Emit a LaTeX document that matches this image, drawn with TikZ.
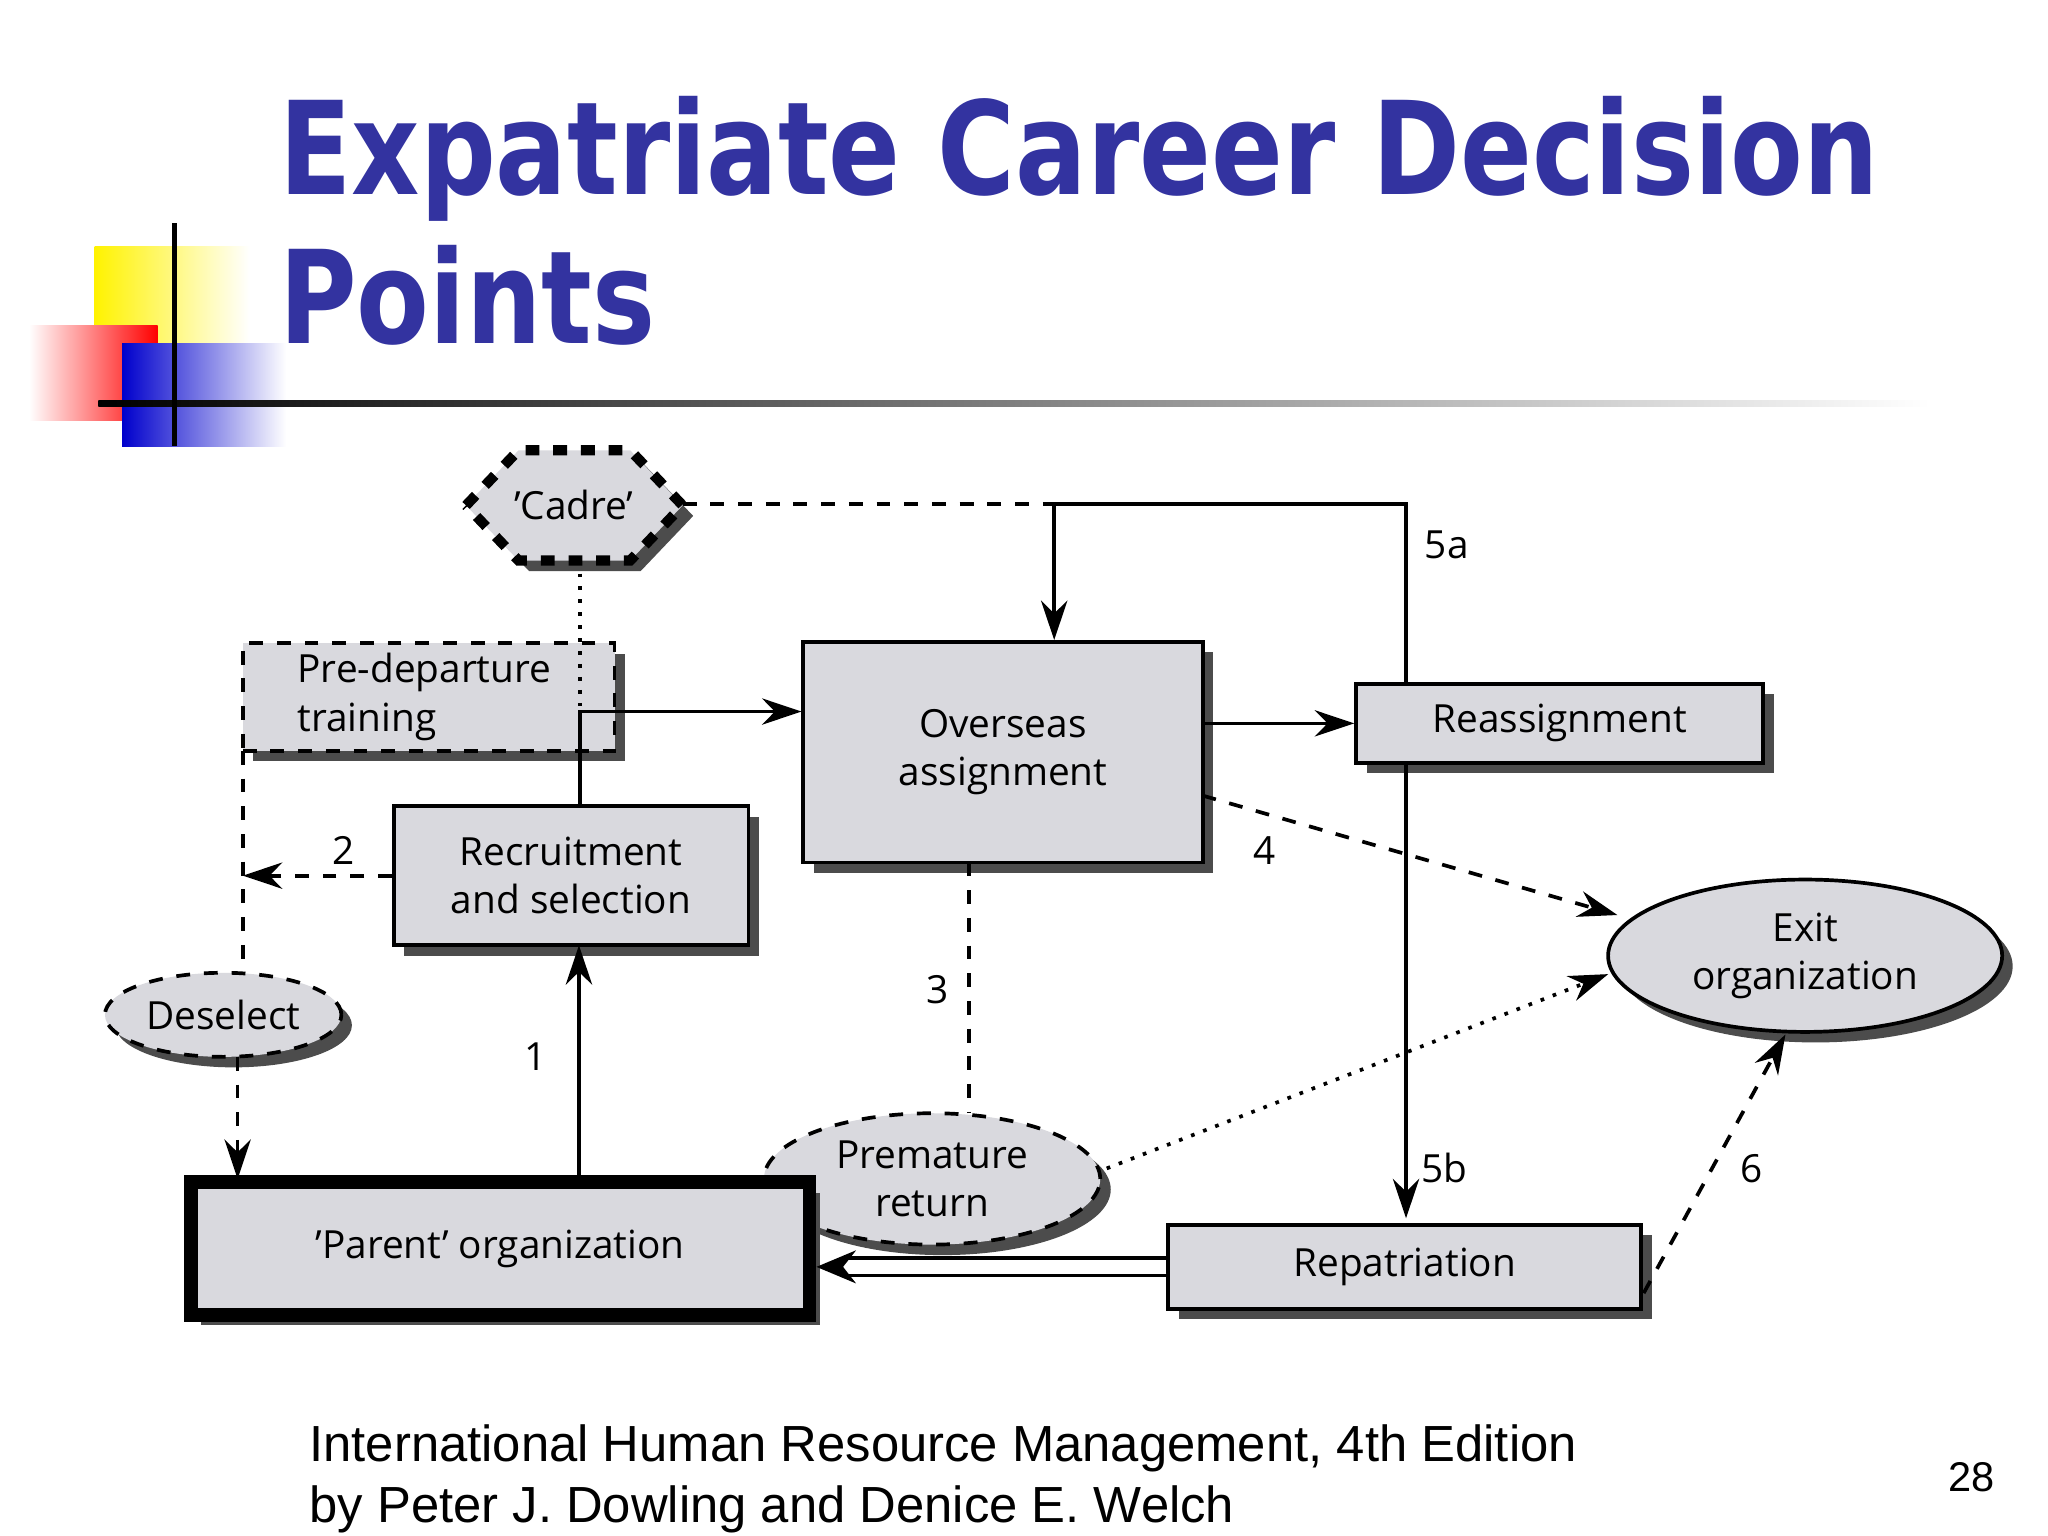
\documentclass[tikz,border=0pt]{standalone}
\usepackage{fontspec}
\setmainfont{Open Sans}
\newfontfamily\titlefont[FakeStretch=0.82]{DejaVu Sans}
\newfontfamily\footfont{Liberation Sans}
\usetikzlibrary{shadows,shapes.geometric,arrows.meta}
\definecolor{titleblue}{HTML}{3333A0}
\definecolor{boxfill}{HTML}{D9D9DE}
\newcommand{\sq}{\symbol{39}}
\tikzset{
  shad/.style={drop shadow={shadow xshift=0.08cm,shadow yshift=-0.08cm,fill=black!70,opacity=1}},
  boxa/.style={draw,fill=boxfill,thick,shad,inner sep=0pt,font=\fontsize{8.4}{10.5}\selectfont,align=center},
  ell/.style={ellipse,draw,fill=boxfill,thick,shad,inner sep=0pt,font=\fontsize{8.4}{10.5}\selectfont,align=center},
  lab/.style={font=\fontsize{8.4}{10.5}\selectfont},
  arr/.style={-{Stealth[length=3mm,width=2mm]},thick},
  dsh/.style={dashed,thick},
  dot/.style={dotted,thick}
}
\begin{document}
\begin{tikzpicture}[x=0.01cm,y=-0.01cm]
\useasboundingbox (0,0) rectangle (1560,1170);
\fill[white] (0,0) rectangle (1560,1170);
% decoration
\shade[left color=yellow!90!orange,right color=white] (72,188) rectangle (190,305);
\shade[left color=white,right color=red] (22,248) rectangle (120,320);
\shade[left color=blue!80!black,right color=white] (93,262) rectangle (218,340);
\shade[left color=black,right color=white] (75,305) rectangle (1470,310);
\fill[black] (131,170) rectangle (135,340);
% title
\node[anchor=base west,inner sep=0pt,text=titleblue,font=\titlefont\bfseries\fontsize{28}{30}\selectfont] (t1) at (212,148) {Expatriate Career Decision};
\node[anchor=base west,inner sep=0pt,text=titleblue,font=\titlefont\bfseries\fontsize{28}{30}\selectfont] (t2) at (212,262) {Points};
% hexagon cadre
\coordinate (cadreR) at (520,384);
\coordinate (cadreB) at (442,427);
\draw[dashed,line width=2.2pt,fill=boxfill,shad] (355,385) -- (395,343) -- (480,343) -- (520,385) -- (480,427) -- (395,427) -- cycle;
\node[lab] (cadre) at (437,385) {\sq Cadre\sq};
% boxes
\node[boxa,dashed,minimum width=2.83cm,minimum height=0.82cm] (pre) at (326.5,531) {};
\node[lab,anchor=west,align=left,inner sep=0pt] (pretext) at (226,531) {Pre-departure\\training};
\node[boxa,minimum width=2.7cm,minimum height=1.06cm] (rec) at (435,667) {Recruitment\\and selection};
\node[boxa,minimum width=3.04cm,minimum height=1.68cm] (ovs) at (764,573) {Overseas\\assignment};
\node[boxa,minimum width=3.1cm,minimum height=0.6cm] (rea) at (1188,551) {Reassignment};
\node[ell,minimum width=3.0cm,minimum height=1.16cm] (exit) at (1375,728) {Exit\\organization};
\node[ell,dashed,minimum width=1.8cm,minimum height=0.64cm] (des) at (170,773) {Deselect};
\node[ell,dashed,minimum width=2.56cm,minimum height=1.0cm] (pre2) at (710,898) {Premature\\return};
\node[boxa,line width=3pt,minimum width=4.71cm,minimum height=1.01cm] (par) at (381,951) {\sq Parent\sq{} organization};
\node[boxa,minimum width=3.6cm,minimum height=0.64cm] (rep) at (1070,965) {Repatriation};
% connectors
\coordinate (j1) at (803,384);
\coordinate (j2) at (1071,384);
\draw[dsh] (cadreR) -- (j1);
\draw[thick] (j1) -- (j2) -- (j2 |- rea.north);
\draw[arr] (j1) -- (j1 |- ovs.north);
\coordinate (k1) at (442,542);
\draw[dot] (cadreB) -- (k1);
\draw[arr] (k1 |- rec.north) -- (k1) -- (k1 -| ovs.west);
\draw[arr] (ovs.east |- rea.west) -- (rea.west);
\draw[arr] (rea.south -| j2) -- (1071,928);
\node[lab] (l5a) at (1102,415) {5a};
\node[lab] (l5b) at (1100,890) {5b};
\coordinate (o4) at (916,606);
\draw[dsh,-{Stealth[length=3mm,width=2mm]}] (o4) -- (1232,697);
\node[lab] (l4) at (963,648) {4};
\coordinate (o3) at (738,657);
\draw[dsh] (o3) -- (738,848);
\node[lab] (l3) at (714,754) {3};
\draw[dot,-{Stealth[length=3mm,width=2mm]}] (843,890) -- (1225,742);
\draw[dsh,-{Stealth[length=3mm,width=2mm]}] (1252,985) -- (1360,788);
\node[lab] (l6) at (1334,890) {6};
\draw[double,double distance=3pt,thick,-{Stealth[length=3mm,width=2.5mm]}] (rep.west) -- (par.east |- rep.west);
\draw[arr] (441,900) -- (441,720);
\node[lab] (l1) at (408,805) {1};
\draw[dsh,-{Stealth[length=3mm,width=2mm]}] (rec.west) -- (185,667);
\node[lab] (l2) at (262,648) {2};
\draw[dsh] (185,572) -- (185,741);
\draw[dsh,-{Stealth[length=3mm,width=2mm]}] (181,805) -- (181,898);
% footer
\node[anchor=base west,inner sep=0pt,font=\footfont\fontsize{11}{12}\selectfont] (f1) at (235,1113) {International Human Resource Management, 4th Edition};
\node[anchor=base west,inner sep=0pt,font=\footfont\fontsize{11}{12}\selectfont] (f2) at (235,1160) {by Peter J. Dowling and Denice E. Welch};
\node[font=\footfont\fontsize{9}{10}\selectfont] (pg) at (1502,1125) {28};
\end{tikzpicture}
\end{document}
